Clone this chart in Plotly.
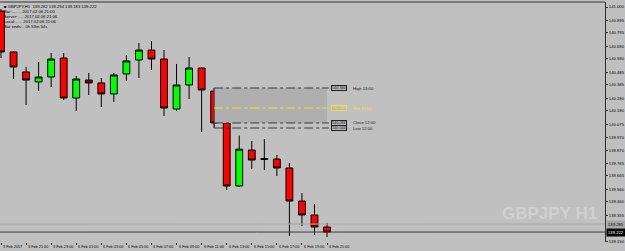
import plotly.graph_objects as go

# ---- data ----
bars = list(range(1, 28))
opens = [140.968, 140.645, 140.487, 140.408, 140.447, 140.597, 140.281, 140.423, 140.400,
         140.313, 140.471, 140.581, 140.660, 140.589, 140.194, 140.384, 140.518, 140.336,
         140.084, 139.586, 139.870, 139.795, 139.799, 139.728, 139.467, 139.357, 139.262]
highs = [140.984, 140.652, 140.526, 140.566, 140.637, 140.637, 140.455, 140.479, 140.439,
         140.479, 140.621, 140.716, 140.731, 140.660, 140.550, 140.605, 140.526, 140.360,
         140.092, 139.984, 139.941, 139.957, 139.831, 139.768, 139.530, 139.444, 139.294]
lows = [140.597, 140.431, 140.226, 140.336, 140.368, 140.265, 140.179, 140.305, 140.210,
        140.250, 140.415, 140.439, 140.502, 140.139, 140.179, 140.273, 140.013, 140.044,
        139.554, 139.578, 139.720, 139.712, 139.665, 139.191, 139.270, 139.199, 139.183]
closes = [140.645, 140.526, 140.423, 140.447, 140.589, 140.281, 140.431, 140.400, 140.313,
          140.463, 140.574, 140.660, 140.589, 140.202, 140.384, 140.518, 140.344, 140.084,
          139.586, 139.877, 139.791, 139.803, 139.728, 139.467, 139.357, 139.262, 139.222]

tick_bars = list(range(1, 28, 2))
tick_labels = ["3 Feb 2017", "3 Feb 21:00", "3 Feb 23:00", "6 Feb 01:00", "6 Feb 03:00",
               "6 Feb 05:00", "6 Feb 07:00", "6 Feb 09:00", "6 Feb 11:00", "6 Feb 13:00",
               "6 Feb 15:00", "6 Feb 17:00", "6 Feb 19:00", "6 Feb 21:00"]
price_ticks = [141.000, 140.895, 140.795, 140.690, 140.590, 140.485, 140.385, 140.280,
               140.180, 140.075, 139.970, 139.870, 139.765, 139.665, 139.560, 139.460,
               139.355, 139.150]
price_labels = [f"{v:.3f}" for v in price_ticks]

ask_price = 139.285
bid_price = closes[-1]
box_start, box_end = 18, 27
box_high = highs[box_start - 1]
box_low = lows[box_start - 1]
box_close = closes[box_start - 1]
box_mid = (box_high + box_low) / 2

header_lines = [
    f"\u25a0 GBPJPY,H1  {opens[-1]:.3f} {highs[-1]:.3f} {lows[-1]:.3f} {closes[-1]:.3f}",
    "Bar:........ 2017.02.06 21:00",
    "Server:..... 2017.02.06 21:06",
    "Local:...... 2017.02.06 21:06",
    "Bar ends:.. 0h 53m 54s",
]

BG = "#C0C0C0"
FONT = "Liberation Sans, Arial, sans-serif"

fig = go.Figure()
# box fill drawn as a filled scatter so it sits under the candles
fig.add_trace(go.Scatter(
    x=[box_start, box_end, box_end, box_start, box_start],
    y=[box_close, box_close, box_high, box_high, box_close],
    mode="lines", fill="toself", fillcolor="#AFAFAF", line=dict(width=0),
    showlegend=False, hoverinfo="skip"))
fig.add_trace(go.Candlestick(
    x=bars, open=opens, high=highs, low=lows, close=closes,
    increasing=dict(line=dict(color="#000000", width=1), fillcolor="#00FF00"),
    decreasing=dict(line=dict(color="#000000", width=1), fillcolor="#FF0000"),
    whiskerwidth=0, showlegend=False, hoverinfo="skip"))

shapes = []
for yv in [box_high, box_close, box_low]:
    shapes.append(dict(type="line", xref="x", yref="y", x0=box_start, x1=box_end + 0.15,
                       y0=yv, y1=yv, line=dict(color="#3A3A3A", width=1, dash="dashdot")))
shapes.append(dict(type="line", xref="x", yref="y", x0=box_start, x1=box_start,
                   y0=box_low, y1=box_high, line=dict(color="#3A3A3A", width=1)))
shapes.append(dict(type="line", xref="x", yref="y", x0=box_start, x1=box_end,
                   y0=box_mid, y1=box_mid, line=dict(color="#F2E030", width=1, dash="dashdot")))
# ask / bid lines
shapes.append(dict(type="line", xref="paper", yref="y", x0=0, x1=1, y0=ask_price, y1=ask_price,
                   line=dict(color="#A6A6A6", width=1)))
shapes.append(dict(type="line", xref="paper", yref="y", x0=0, x1=1, y0=bid_price, y1=bid_price,
                   line=dict(color="#3C3C3C", width=1)))
# top frame
shapes.append(dict(type="line", xref="paper", yref="paper", x0=0, x1=1, y0=1, y1=1,
                   line=dict(color="#7A7A7A", width=2)))

annotations = []
for i, txt in enumerate(header_lines):
    annotations.append(dict(xref="paper", yref="paper", x=0, y=1, xanchor="left", yanchor="top",
                            xshift=2, yshift=-i * 5, text=txt, showarrow=False,
                            font=dict(family=FONT, size=4.2, color="#000000")))
for b, lab in zip(tick_bars, tick_labels):
    annotations.append(dict(xref="x", yref="paper", x=b, y=0, xanchor="left", yanchor="top",
                            xshift=0, yshift=-1, text=lab, showarrow=False,
                            font=dict(family=FONT, size=3.8, color="#000000")))
# box labels
box_labels = [(box_high, "High 13:00", "#202020", "#B8B8B8", "#202020"),
              (box_mid, "Mid 12:00", "#F2E030", "#B8B8B8", "#F2E030"),
              (box_close, "Close 12:00", "#202020", "#B8B8B8", "#202020"),
              (box_low, "Low 12:00", "#202020", "#B8B8B8", "#202020")]
for yv, lab, tc, bg, bc in box_labels:
    annotations.append(dict(xref="x", yref="y", x=box_end, y=yv, xanchor="left", yanchor="middle",
                            xshift=4, text=f"{yv:.3f}", showarrow=False, bgcolor=bg,
                            bordercolor=bc, borderwidth=1, borderpad=0,
                            font=dict(family=FONT, size=3.8, color=tc)))
    annotations.append(dict(xref="x", yref="y", x=box_end, y=yv, xanchor="left", yanchor="middle",
                            xshift=24, text=lab, showarrow=False,
                            font=dict(family=FONT, size=4.2, color=tc)))
# price axis boxes for ask / bid
annotations.append(dict(xref="paper", yref="y", x=1, y=ask_price, xanchor="left", yanchor="middle",
                        xshift=1, text=f"{ask_price:.3f}", showarrow=False, bgcolor="#A8A8A8",
                        font=dict(family=FONT, size=4.2, color="#000000")))
annotations.append(dict(xref="paper", yref="y", x=1, y=bid_price, xanchor="left", yanchor="middle",
                        xshift=1, text=f"{bid_price:.3f}", showarrow=False, bgcolor="#000000",
                        font=dict(family=FONT, size=4.2, color="#FFFFFF")))
# watermark
annotations.append(dict(xref="paper", yref="paper", x=1, y=0.12, xanchor="right", yanchor="middle",
                        xshift=-6, text="<b>GBPJPY H1</b>", showarrow=False,
                        font=dict(family=FONT, size=17, color="#D0D0D0")))

fig.update_layout(
    width=625, height=251, margin=dict(l=0, r=18, t=2, b=9),
    paper_bgcolor=BG, plot_bgcolor=BG, boxgap=0.22, showlegend=False,
    shapes=shapes, annotations=annotations,
    xaxis=dict(range=[0.92, 49.17], showgrid=False, zeroline=False,
               rangeslider=dict(visible=False), tickvals=tick_bars, ticks="outside",
               ticklen=2, tickcolor="#303030", showticklabels=False, showline=False),
    yaxis=dict(side="right", range=[139.1435, 141.0395], tickvals=price_ticks,
               ticktext=price_labels, ticks="outside", ticklen=2, tickcolor="#303030",
               showline=True, linecolor="#303030", linewidth=1, showgrid=False,
               zeroline=False, tickfont=dict(family=FONT, size=4.2, color="#000000")),
)

fig.write_html("out.html")
